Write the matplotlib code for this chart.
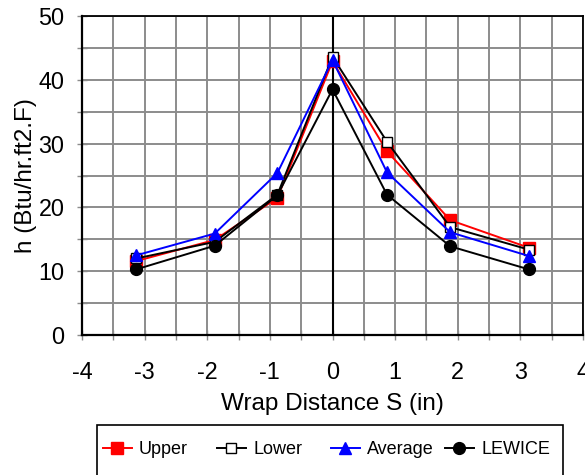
import matplotlib
matplotlib.use("Agg")
import matplotlib.pyplot as plt
from matplotlib.patches import Rectangle
import matplotlib.ticker as mticker

plt.rcParams['font.family'] = ['Liberation Sans', 'DejaVu Sans']
plt.rcParams['axes.unicode_minus'] = False

# wrap distance (in) and heat transfer coefficient (Btu/hr.ft2.F)
s = [-3.13, -1.88, -0.88, 0.0, 0.87, 1.88, 3.13]
upper = [11.6, 14.9, 21.5, 42.9, 28.8, 18.0, 13.7]
lower = [12.0, 14.6, 22.0, 43.6, 30.3, 16.9, 13.4]
average = [12.5, 15.9, 25.4, 43.1, 25.5, 16.1, 12.4]
lewice = [10.3, 14.0, 21.9, 38.5, 22.0, 13.9, 10.3]

fig = plt.figure(figsize=(5.85, 4.75), dpi=100)
ax = fig.add_axes([82 / 585, 1 - 335 / 475, 501 / 585, 319 / 475])

ax.set_xlim(-4, 4)
ax.set_ylim(0, 50)
ax.xaxis.set_major_locator(mticker.MultipleLocator(1))
ax.xaxis.set_minor_locator(mticker.MultipleLocator(0.5))
ax.yaxis.set_major_locator(mticker.MultipleLocator(10))
ax.yaxis.set_minor_locator(mticker.MultipleLocator(5))
ax.grid(True, which='both', color='#8c8c8c', lw=1.4)
ax.set_axisbelow(True)
ax.tick_params(which='both', direction='inout', length=7, width=1,
               color='#8c8c8c', labelsize=16.8)
ax.tick_params(axis='x', pad=15)
ax.tick_params(axis='y', pad=9)
for side in ax.spines.values():
    side.set_color('black')
    side.set_linewidth(1.3)
ax.spines['bottom'].set_linewidth(1.6)
ax.spines['left'].set_linewidth(1.6)
ax.axvline(0, color='black', lw=1.5, zorder=1.5)

series = [
    ('Upper', upper, dict(color='red', marker='s', ms=8, mfc='red', mec='red')),
    ('Lower', lower, dict(color='black', marker='s', ms=7, mfc='white', mec='black', mew=1)),
    ('Average', average, dict(color='blue', marker='^', ms=8.5, mfc='blue', mec='blue')),
    ('LEWICE', lewice, dict(color='black', marker='o', ms=8.5, mfc='black', mec='black')),
]
handles = []
for name, vals, style in series:
    line, = ax.plot(s, vals, lw=1.4, label=name, clip_on=False, **style)
    handles.append(line)

ax.set_xlabel('Wrap Distance S (in)', fontsize=17.5, labelpad=7)
ax.set_ylabel('h (Btu/hr.ft2.F)', fontsize=17.5, labelpad=1)

# legend box running off the bottom edge, with evenly spaced entries
fig.patches.append(Rectangle((97 / 585, -0.05), (563 - 97) / 585, 0.05 + 50 / 475,
                             transform=fig.transFigure, fill=False,
                             ec='black', lw=1.2))
for i, h in enumerate(handles):
    leg = fig.legend([h], [h.get_label()], loc='center left',
                     bbox_to_anchor=((103 + 114 * i) / 585, 1 - 450 / 475),
                     frameon=False, fontsize=13, handlelength=1.6,
                     handletextpad=0.4, borderpad=0, borderaxespad=0)

fig.savefig('out.png', dpi=100)
